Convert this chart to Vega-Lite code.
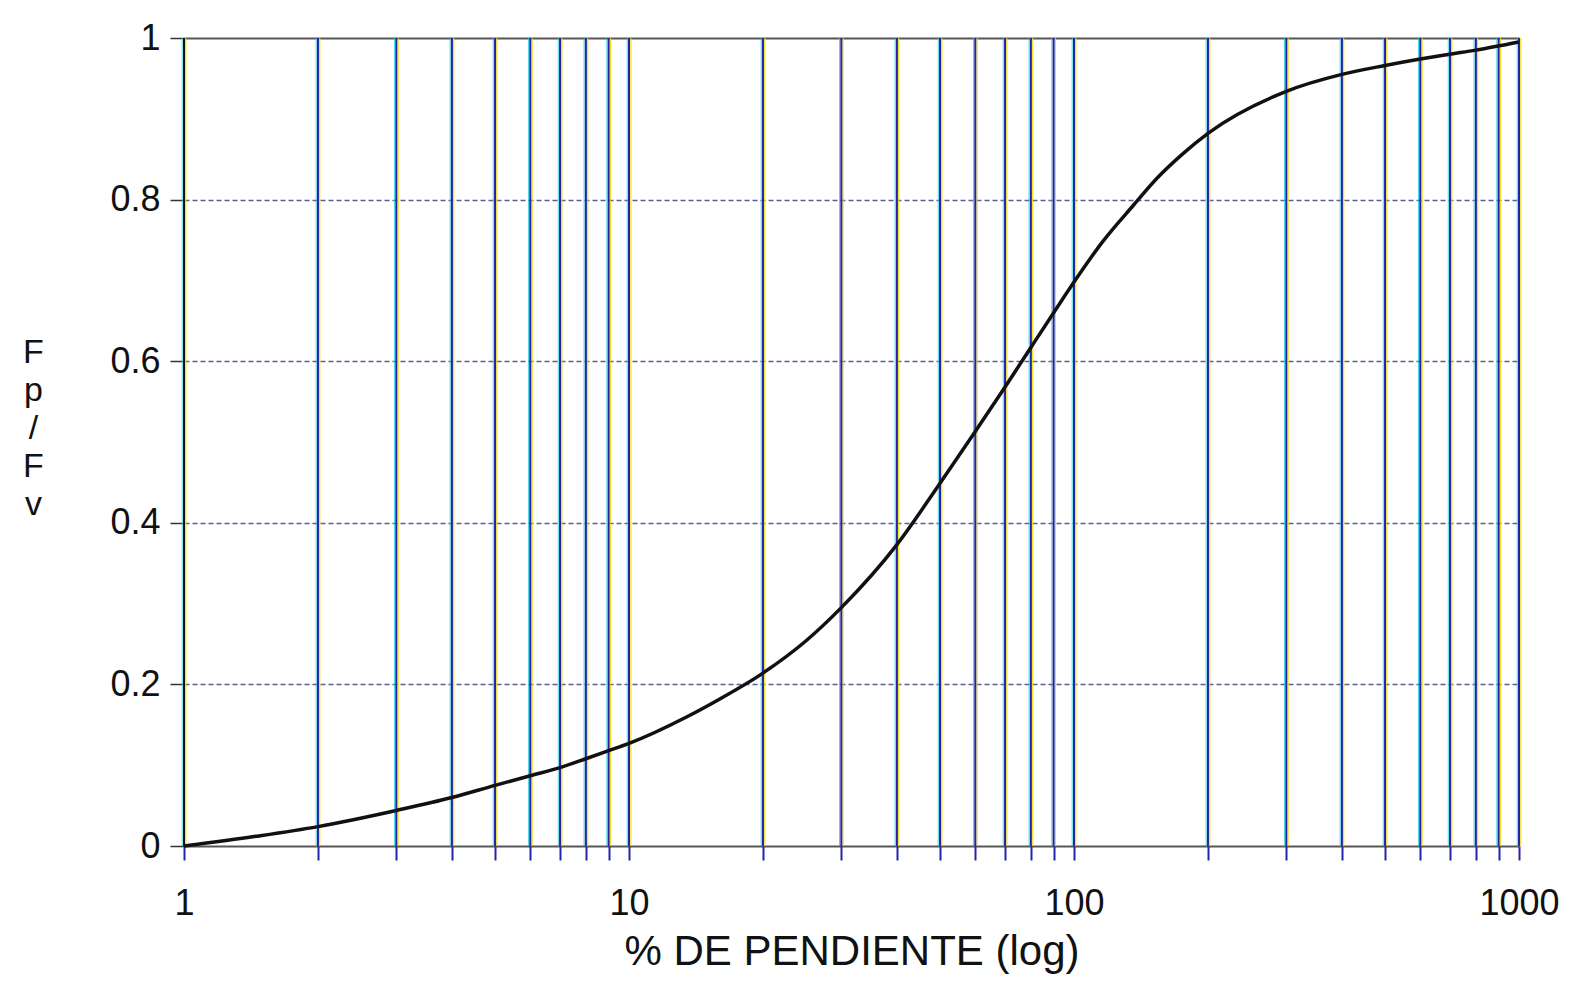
{
  "$schema": "https://vega.github.io/schema/vega-lite/v6.json",
  "width": 1335,
  "height": 808,
  "autosize": {"type": "none"},
  "padding": {"left": 184, "top": 38, "right": 55, "bottom": 147},
  "background": "white",
  "config": {"view": {"stroke": null}, "font": "Liberation Sans"},
  "datasets": {
    "curve": [
      {"pendiente": 1, "fp_fv": 0.0},
      {"pendiente": 1.45, "fp_fv": 0.012},
      {"pendiente": 2, "fp_fv": 0.024},
      {"pendiente": 3, "fp_fv": 0.044},
      {"pendiente": 4, "fp_fv": 0.06},
      {"pendiente": 5, "fp_fv": 0.075},
      {"pendiente": 6, "fp_fv": 0.087},
      {"pendiente": 7, "fp_fv": 0.097},
      {"pendiente": 8, "fp_fv": 0.108},
      {"pendiente": 9, "fp_fv": 0.118},
      {"pendiente": 10, "fp_fv": 0.127},
      {"pendiente": 13.5, "fp_fv": 0.16},
      {"pendiente": 16, "fp_fv": 0.182},
      {"pendiente": 20, "fp_fv": 0.214},
      {"pendiente": 25, "fp_fv": 0.254},
      {"pendiente": 30, "fp_fv": 0.295},
      {"pendiente": 40, "fp_fv": 0.373},
      {"pendiente": 50, "fp_fv": 0.449},
      {"pendiente": 60, "fp_fv": 0.513},
      {"pendiente": 70, "fp_fv": 0.568},
      {"pendiente": 80, "fp_fv": 0.617},
      {"pendiente": 90, "fp_fv": 0.66},
      {"pendiente": 100, "fp_fv": 0.698},
      {"pendiente": 116, "fp_fv": 0.748},
      {"pendiente": 136, "fp_fv": 0.793},
      {"pendiente": 154, "fp_fv": 0.827},
      {"pendiente": 175, "fp_fv": 0.856},
      {"pendiente": 200, "fp_fv": 0.882},
      {"pendiente": 300, "fp_fv": 0.934},
      {"pendiente": 400, "fp_fv": 0.955},
      {"pendiente": 500, "fp_fv": 0.966},
      {"pendiente": 600, "fp_fv": 0.974},
      {"pendiente": 700, "fp_fv": 0.98},
      {"pendiente": 800, "fp_fv": 0.985},
      {"pendiente": 1000, "fp_fv": 0.995}
    ],
    "xgrid": [
      {"v": 1}, {"v": 2}, {"v": 3}, {"v": 4}, {"v": 5}, {"v": 6}, {"v": 7}, {"v": 8}, {"v": 9},
      {"v": 10}, {"v": 20}, {"v": 30}, {"v": 40}, {"v": 50}, {"v": 60}, {"v": 70}, {"v": 80}, {"v": 90},
      {"v": 100}, {"v": 200}, {"v": 300}, {"v": 400}, {"v": 500}, {"v": 600}, {"v": 700}, {"v": 800}, {"v": 900},
      {"v": 1000}
    ]
  },
  "layer": [
    {
      "data": {"name": "xgrid"},
      "mark": {"type": "rule", "color": "#22cde0", "strokeWidth": 1, "xOffset": -1.8, "opacity": 0.8},
      "encoding": {
        "x": {"field": "v", "type": "quantitative", "scale": {"type": "log", "domain": [1, 1000]}}
      }
    },
    {
      "data": {"name": "xgrid"},
      "mark": {"type": "rule", "color": "#f0dc00", "strokeWidth": 1.2, "xOffset": 1.8, "opacity": 0.9},
      "encoding": {
        "x": {"field": "v", "type": "quantitative", "scale": {"type": "log", "domain": [1, 1000]}}
      }
    },
    {
      "data": {"name": "xgrid"},
      "mark": {"type": "rule", "strokeWidth": 2},
      "encoding": {
        "x": {"field": "v", "type": "quantitative", "scale": {"type": "log", "domain": [1, 1000]}},
        "color": {"condition": {"test": "datum.v === 1", "value": "#111111"}, "value": "#2323a8"}
      }
    },
    {
      "data": {"name": "curve"},
      "mark": {"type": "line", "color": "#111111", "strokeWidth": 3.5, "interpolate": "monotone"},
      "encoding": {
        "x": {
          "field": "pendiente",
          "type": "quantitative",
          "scale": {"type": "log", "domain": [1, 1000]},
          "axis": {
            "title": "% DE PENDIENTE (log)",
            "values": [1, 2, 3, 4, 5, 6, 7, 8, 9, 10, 20, 30, 40, 50, 60, 70, 80, 90, 100, 200, 300, 400, 500, 600, 700, 800, 900, 1000],
            "format": "d",
            "labelExpr": "datum.value === 1 || datum.value === 10 || datum.value === 100 || datum.value === 1000 ? datum.label : ''",
            "labelOverlap": false,
            "labelFlush": false,
            "labelFontSize": 36,
            "labelColor": "#111111",
            "labelPadding": 26,
            "grid": false,
            "domain": false,
            "ticks": true,
            "tickSize": 14,
            "tickWidth": 2,
            "tickColor": "#2323a8",
            "titleFontSize": 42,
            "titleFontWeight": "normal",
            "titleColor": "#111111",
            "titlePadding": 10
          }
        },
        "y": {
          "field": "fp_fv",
          "type": "quantitative",
          "scale": {"domain": [0, 1], "nice": false},
          "axis": {
            "title": ["F", "p", "/", "F", "v"],
            "titleAngle": 0,
            "titleAlign": "center",
            "titleBaseline": "middle",
            "titleX": -151,
            "titleY": 314,
            "titleFontSize": 34,
            "titleLineHeight": 38,
            "titleFontWeight": "normal",
            "titleColor": "#111111",
            "values": [0, 0.2, 0.4, 0.6, 0.8, 1],
            "format": ".1~f",
            "labelFontSize": 36,
            "labelColor": "#111111",
            "labelPadding": 10,
            "domain": false,
            "tickSize": 14,
            "tickWidth": 1.5,
            "tickColor": "#333333",
            "grid": true,
            "gridColor": {"condition": {"test": "datum.value === 0 || datum.value === 1", "value": "#444444"}, "value": "#4a4a8c"},
            "gridDash": {"condition": {"test": "datum.value === 0 || datum.value === 1", "value": []}, "value": [5, 3]},
            "gridWidth": {"condition": {"test": "datum.value === 0 || datum.value === 1", "value": 2}, "value": 1.6},
            "gridOpacity": 0.9
          }
        }
      }
    }
  ]
}
